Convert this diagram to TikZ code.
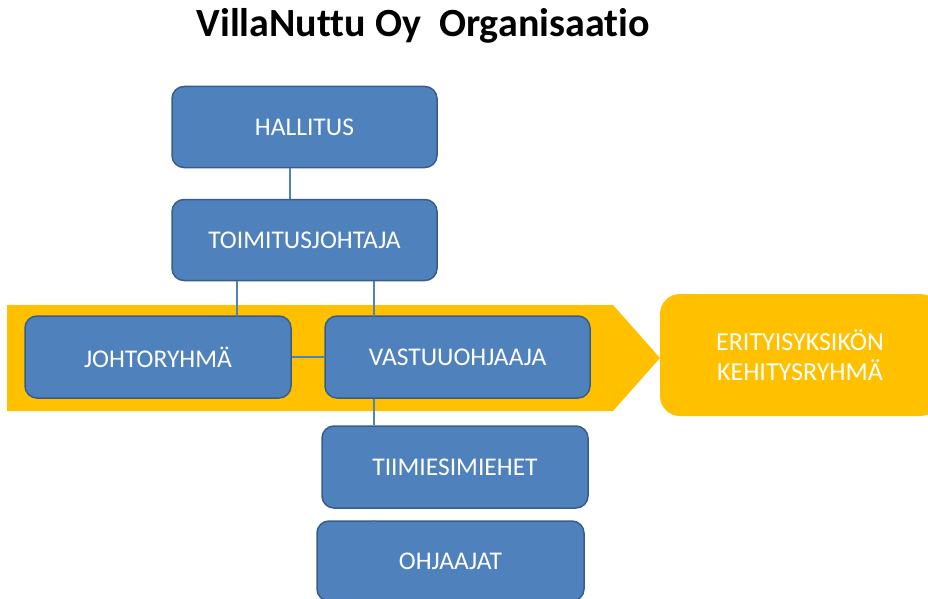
\documentclass[tikz,border=0pt]{standalone}
\usepackage{fontspec}
\setmainfont{Carlito}[Ligatures=NoCommon]
\definecolor{boxblue}{HTML}{4F81BD}
\definecolor{boxedge}{HTML}{385D8A}
\definecolor{bandyellow}{HTML}{FFC000}
\begin{document}
\begin{tikzpicture}[x=1pt,y=-1pt,
  orgbox/.style={draw=boxedge, line width=1.5pt, fill=boxblue, rounded corners=12pt,
    text=white, font=\fontsize{25.5}{30}\selectfont, inner sep=0pt, anchor=center},
  sidebox/.style={fill=bandyellow, rounded corners=20pt, text=white,
    font=\fontsize{26}{30}\selectfont, align=center, inner sep=0pt, anchor=center},
  conn/.style={draw=boxblue, line width=1.2pt}]
\useasboundingbox (0,0) rectangle (928,599);
\clip (0,0) rectangle (928,599);
% title
\node[font=\bfseries\fontsize{40}{46}\selectfont, anchor=center] (title) at (423,26) {VillaNuttu Oy\ \ Organisaatio};
% yellow band arrow
\fill[bandyellow] (7,305) -- (613,305) -- (660,358) -- (613,411) -- (7,411) -- cycle;
% side box
\node[sidebox, minimum width=280pt, minimum height=122pt] (erit) at (800,355) {ERITYISYKSIKÖN\\KEHITYSRYHMÄ};
% coordinates for connector columns
\coordinate (c1) at (290,0);
\coordinate (c2) at (237,0);
\coordinate (c3) at (374,0);
% boxes
\node[orgbox, minimum width=265pt, minimum height=81pt] (hall) at (304.5,127) {HALLITUS};
\node[orgbox, minimum width=265pt, minimum height=81pt] (toim) at (304.5,240) {TOIMITUSJOHTAJA};
\node[orgbox, minimum width=266pt, minimum height=82pt] (joht) at (158,357) {JOHTORYHMÄ};
\node[orgbox, minimum width=265pt, minimum height=82pt] (vast) at (457.5,357) {VASTUUOHJAAJA};
\node[orgbox, minimum width=266pt, minimum height=82pt] (tiim) at (455,467) {TIIMIESIMIEHET};
\node[orgbox, minimum width=267pt, minimum height=80pt] (ohja) at (450.5,561) {OHJAAJAT};
% connectors
\draw[conn] (hall.south -| c1) -- (toim.north -| c1);
\draw[conn] (toim.south -| c2) -- (joht.north -| c2);
\draw[conn] (toim.south -| c3) -- (vast.north -| c3);
\draw[conn] (joht.east) -- (vast.west |- joht.east);
\draw[conn] (vast.south -| c3) -- (tiim.north -| c3);
\draw[conn] ([yshift=-16pt]tiim.south -| c3) -- (ohja.north -| c3);
\end{tikzpicture}
\end{document}
